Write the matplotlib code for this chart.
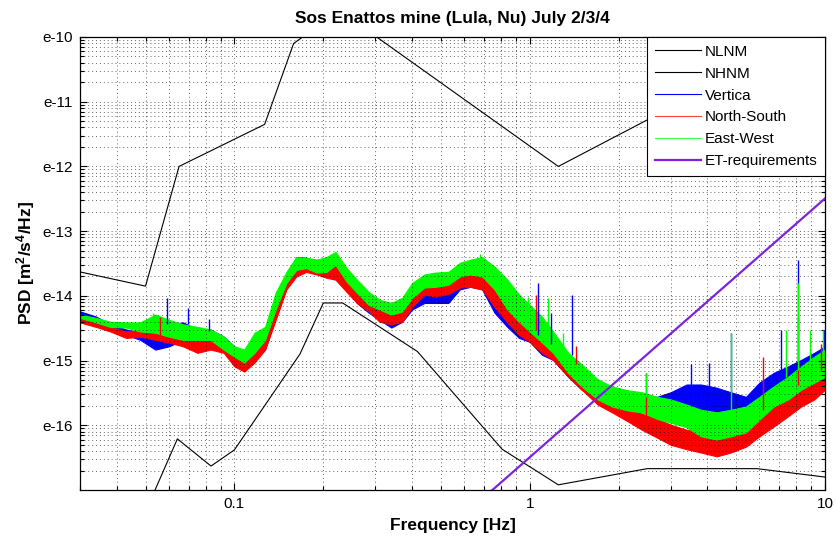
import numpy as np
import matplotlib
matplotlib.use('Agg')
import matplotlib.pyplot as plt
from matplotlib.lines import Line2D
from matplotlib.ticker import FixedLocator, NullFormatter, LogLocator

plt.rcParams['font.family'] = ['Liberation Sans', 'DejaVu Sans']
plt.rcParams['mathtext.fontset'] = 'custom'
plt.rcParams['mathtext.rm'] = 'Liberation Sans:bold'
plt.rcParams['mathtext.default'] = 'rm'

# Peterson noise models, corner frequencies (Hz) and level (dB re 1 m^2/s^4/Hz)
nlnm_freq = [10.0, 5.882, 2.5, 1.25, 0.8065, 0.4167, 0.2326, 0.2, 0.1667, 0.1, 0.08333, 0.0641, 0.04566, 0.03165, 0.03]
nlnm_db = [-168.0, -166.7, -166.7, -169.2, -163.7, -148.6, -141.1, -141.1, -149.0, -163.8, -166.3, -162.1, -177.5, -185.0, -185.4]
nhnm_freq = [10.0, 4.545, 3.125, 1.25, 0.2632, 0.2174, 0.1587, 0.1266, 0.06494, 0.05, 0.03]
nhnm_db = [-91.5, -97.4, -110.5, -120.0, -98.0, -96.5, -101.0, -113.5, -120.0, -138.5, -136.3]

# ET requirement line
et_freq = [0.5, 10.0]
et_psd = [2.0e-18, 3.2e-13]

# measured spectra: spread of each trace (log10 PSD) at these frequencies
freq = [0.030, 0.034, 0.038, 0.043, 0.048, 0.054, 0.060, 0.067, 0.075, 0.083,
        0.092, 0.100, 0.108, 0.117, 0.127, 0.138, 0.150, 0.162, 0.175, 0.19,
        0.205, 0.22, 0.24, 0.26, 0.285, 0.31, 0.34, 0.37, 0.40, 0.44,
        0.48, 0.53, 0.58, 0.63, 0.69, 0.76, 0.84, 0.92, 1.00, 1.1,
        1.2, 1.35, 1.5, 1.7, 1.9, 2.15, 2.4, 2.7, 3.0, 3.4,
        3.8, 4.3, 4.8, 5.4, 6.0, 6.7, 7.5, 8.3, 9.2, 10.0]

vert_hi = [-14.24, -14.32, -14.44, -14.52, -14.57, -14.41, -14.44, -14.41, -14.52, -14.52,
           -14.63, -14.78, -14.94, -14.78, -14.63, -14.06, -13.70, -13.40, -13.41, -13.47,
           -13.44, -13.55, -13.72, -13.86, -14.06, -14.17, -14.29, -14.18, -14.01, -13.87,
           -13.86, -13.89, -13.70, -13.70, -13.70, -13.95, -14.21, -14.40, -14.55, -14.65,
           -14.78, -14.94, -15.22, -15.37, -15.45, -15.49, -15.53, -15.56, -15.49, -15.37,
           -15.37, -15.42, -15.49, -15.56, -15.34, -15.19, -15.09, -14.99, -14.88, -14.78]
vert_lo = [-14.29, -14.40, -14.52, -14.60, -14.68, -14.83, -14.78, -14.68, -14.78, -14.72,
           -14.83, -15.03, -15.11, -14.99, -14.83, -14.32, -13.87, -13.60, -13.57, -13.64,
           -13.64, -13.72, -13.90, -14.11, -14.26, -14.37, -14.49, -14.40, -14.21, -14.11,
           -14.11, -14.11, -13.90, -13.86, -13.90, -14.26, -14.48, -14.65, -14.71, -14.91,
           -14.99, -15.25, -15.45, -15.56, -15.60, -15.65, -15.71, -15.76, -15.83, -15.91,
           -15.96, -15.96, -15.91, -15.86, -15.71, -15.49, -15.45, -15.34, -15.25, -15.14]

ns_hi = [-14.34, -14.40, -14.48, -14.55, -14.52, -14.32, -14.41, -14.57, -14.63, -14.63,
         -14.68, -14.83, -14.99, -14.83, -14.63, -14.11, -13.70, -13.49, -13.47, -13.49,
         -13.52, -13.55, -13.70, -13.90, -14.06, -14.18, -14.26, -14.18, -13.95, -13.78,
         -13.80, -13.77, -13.64, -13.64, -13.64, -13.80, -14.06, -14.29, -14.49, -14.63,
         -14.75, -14.99, -15.19, -15.45, -15.60, -15.73, -15.82, -15.90, -15.99, -16.07,
         -16.07, -16.17, -16.11, -15.96, -15.80, -15.65, -15.49, -15.34, -15.19, -15.03]
ns_lo = [-14.41, -14.48, -14.55, -14.65, -14.63, -14.68, -14.72, -14.78, -14.88, -14.83,
         -14.88, -15.09, -15.17, -15.03, -14.83, -14.37, -13.90, -13.70, -13.63, -13.67,
         -13.72, -13.75, -13.94, -14.11, -14.24, -14.40, -14.44, -14.40, -14.17, -13.98,
         -14.01, -13.97, -13.87, -13.86, -13.90, -14.17, -14.41, -14.60, -14.71, -14.88,
         -14.99, -15.25, -15.45, -15.68, -15.80, -15.94, -16.07, -16.19, -16.30, -16.37,
         -16.42, -16.48, -16.42, -16.33, -16.17, -16.02, -15.86, -15.71, -15.60, -15.45]

ew_hi = [-14.29, -14.34, -14.40, -14.41, -14.41, -14.29, -14.37, -14.44, -14.48, -14.52,
         -14.63, -14.78, -14.83, -14.57, -14.48, -13.95, -13.63, -13.40, -13.41, -13.44,
         -13.40, -13.32, -13.57, -13.75, -13.94, -14.06, -14.11, -14.03, -13.80, -13.67,
         -13.64, -13.63, -13.49, -13.44, -13.40, -13.55, -13.75, -13.98, -14.14, -14.32,
         -14.55, -14.88, -15.06, -15.29, -15.40, -15.46, -15.49, -15.56, -15.60, -15.68,
         -15.76, -15.80, -15.76, -15.71, -15.56, -15.40, -15.25, -15.09, -14.94, -14.83]
ew_lo = [-14.34, -14.41, -14.48, -14.49, -14.55, -14.57, -14.63, -14.68, -14.68, -14.68,
         -14.83, -14.94, -15.03, -14.88, -14.68, -14.21, -13.80, -13.60, -13.57, -13.64,
         -13.63, -13.52, -13.78, -13.95, -14.14, -14.21, -14.29, -14.24, -14.03, -13.87,
         -13.86, -13.83, -13.70, -13.67, -13.70, -13.90, -14.21, -14.40, -14.55, -14.72,
         -14.88, -15.19, -15.40, -15.60, -15.71, -15.77, -15.80, -15.90, -15.96, -16.03,
         -16.17, -16.22, -16.17, -16.11, -15.91, -15.71, -15.60, -15.45, -15.34, -15.25]

# narrow lines sticking out of the spectra (freq, base, top in log10 PSD)
vert_spike_f = [0.059, 0.0695, 0.082, 1.064, 1.178, 1.387, 2.47, 3.51, 4.04, 4.79, 7.07, 8.13, 9.95]
vert_spike_base = [-14.44, -14.44, -14.55, -14.60, -14.75, -14.91, -15.57, -15.37, -15.48, -15.52, -15.22, -15.06, -14.80]
vert_spike_top = [-14.04, -14.18, -14.35, -13.80, -14.26, -13.98, -15.19, -15.06, -15.03, -14.57, -14.52, -13.44, -14.52]

ns_spike_f = [0.056, 1.048, 1.431, 2.47, 6.19, 8.13, 9.66]
ns_spike_base = [-14.60, -14.52, -15.06, -15.85, -15.76, -15.37, -15.14]
ns_spike_top = [-14.32, -13.98, -14.78, -15.57, -14.94, -14.32, -14.75]

ew_spike_f = [0.053, 0.68, 0.985, 1.15, 1.30, 2.47, 4.79, 7.35, 8.13, 8.93, 9.88]
ew_spike_base = [-14.40, -13.45, -14.30, -14.60, -14.90, -15.57, -15.76, -15.26, -15.14, -15.00, -14.86]
ew_spike_top = [-14.26, -13.36, -14.01, -14.03, -14.57, -15.19, -14.57, -14.52, -13.80, -14.52, -14.52]

ytick_vals = [1e-16, 1e-15, 1e-14, 1e-13, 1e-12, 1e-11, 1e-10]
ytick_labels = ['e-16', 'e-15', 'e-14', 'e-13', 'e-12', 'e-11', 'e-10']
xtick_vals = [0.1, 1, 10]
xtick_labels = ['0.1', '1', '10']


def draw_trace(ax, hi, lo, sf, sbase, stop, color):
    ax.fill_between(freq, 10**np.array(lo), 10**np.array(hi), color=color, lw=0.8)
    ax.vlines(sf, 10**np.array(sbase), 10**np.array(stop), color=color, lw=1.0)


def plot_psd(filename):
    fig = plt.figure(figsize=(8.36, 5.45), dpi=100)
    ax = fig.add_axes([80/836, 1-490/545, 745/836, 453/545])

    nlnm, = ax.loglog(nlnm_freq, 10**(np.array(nlnm_db)/10), color='black', lw=0.8)
    nhnm, = ax.loglog(nhnm_freq, 10**(np.array(nhnm_db)/10), color='black', lw=0.8)

    draw_trace(ax, vert_hi, vert_lo, vert_spike_f, vert_spike_base, vert_spike_top, '#0000ff')
    draw_trace(ax, ns_hi, ns_lo, ns_spike_f, ns_spike_base, ns_spike_top, '#ff0000')
    draw_trace(ax, ew_hi, ew_lo, ew_spike_f, ew_spike_base, ew_spike_top, '#00ff00')

    et, = ax.loglog(et_freq, et_psd, color='#7d22e0', lw=1.6)

    ax.set_xlim(0.03, 10)
    ax.set_ylim(1e-17, 1e-10)

    ax.yaxis.set_major_locator(FixedLocator(ytick_vals))
    ax.set_yticklabels(ytick_labels)
    ax.yaxis.set_minor_locator(LogLocator(base=10, subs=np.arange(2, 10), numticks=20))
    ax.yaxis.set_minor_formatter(NullFormatter())
    ax.xaxis.set_major_locator(FixedLocator(xtick_vals))
    ax.set_xticklabels(xtick_labels)
    ax.xaxis.set_minor_locator(LogLocator(base=10, subs=np.arange(2, 10), numticks=20))
    ax.xaxis.set_minor_formatter(NullFormatter())

    ax.tick_params(which='both', direction='in', top=True, right=True, labelsize=11, width=0.8)
    ax.tick_params(which='major', length=5, pad=5)
    ax.tick_params(which='minor', length=3)
    ax.grid(True, which='both', color='black', linestyle=(0, (1, 3)), lw=0.7, alpha=0.6)
    for s in ax.spines.values():
        s.set_linewidth(0.9)

    ax.set_title('Sos Enattos mine (Lula, Nu) July 2/3/4', fontsize=12.5, fontweight='bold', pad=10)
    ax.set_xlabel('Frequency [Hz]', fontsize=12.5, fontweight='bold')
    ax.set_ylabel(r'PSD [m$^2$/s$^4$/Hz]', fontsize=12.5, fontweight='bold')
    ax.xaxis.set_label_coords(0.5, -0.062)
    ax.yaxis.set_label_coords(-0.058, 0.5)

    handles = [nlnm, nhnm,
               Line2D([], [], color='#0000ff', lw=0.8),
               Line2D([], [], color='#ff4040', lw=0.8),
               Line2D([], [], color='#40ff40', lw=0.8),
               et]
    labels = ['NLNM', 'NHNM', 'Vertica', 'North-South', 'East-West', 'ET-requirements']
    leg = ax.legend(handles, labels, loc='upper right', fontsize=11, fancybox=False,
                    framealpha=1, edgecolor='black', borderaxespad=0, handlelength=3.0,
                    handletextpad=0.25, borderpad=0.5, labelspacing=0.52)
    leg.get_frame().set_linewidth(0.8)

    fig.savefig(filename, dpi=100, facecolor='white')


def main():
    plot_psd('out.png')


if __name__ == '__main__':
    main()
